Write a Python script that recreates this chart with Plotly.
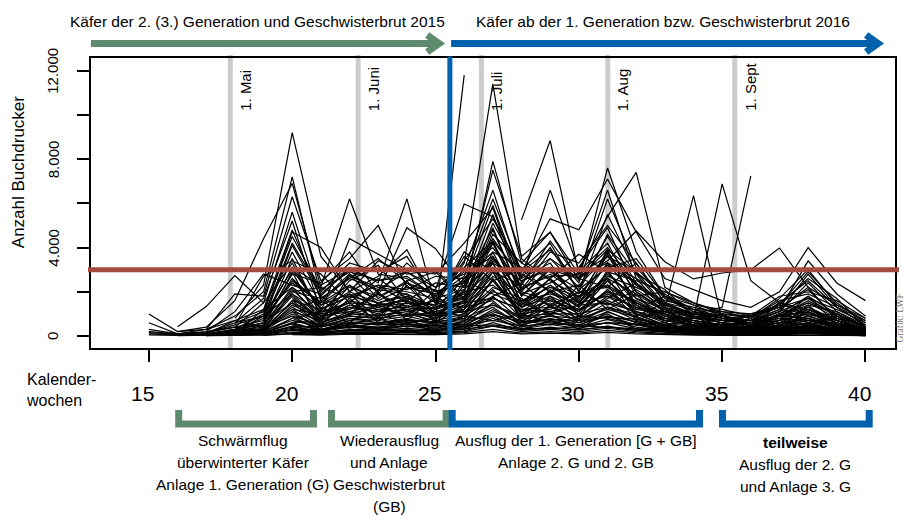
import plotly.graph_objects as go

N = None
WEEKS = list(range(15, 41))

# weekly trap catches (beetles per trap), calendar weeks 15..40
trap_01 = [N, N, N, 800, 2300, 9200, 3600, 2000, 1500, 1800, 1200, 2600, 4200, 2100, 2800, 1900, 3200, 2400, 1300, 900, 700, 600, 800, 700, 500, 300]
trap_02 = [N, N, 300, 900, 2000, 7200, 1800, 3100, 2400, 6200, 1400, 1900, 7900, 3300, 4700, 2500, 7600, 3800, 1800, 1100, 900, 700, 900, 800, 400, 200]
trap_03 = [N, 200, 400, 1600, 4400, 6900, 2200, 6200, 2800, 2600, 1800, 3000, 6600, 2600, 6600, 3000, 5400, 7400, 2200, 1500, 1000, 900, 1400, 1200, 700, 300]
trap_04 = [1000, 200, 300, 1900, 1800, 6300, 2500, 3500, 5000, 2200, 2100, 5970, 5400, 2900, 5300, 4800, 7100, 4700, 2600, 2100, 1600, 1300, 2000, 4000, 2400, 1600]
trap_05 = [N, 420, 1330, 2730, 1500, 5600, 1600, 2800, 2000, 4900, 3950, 2200, 7500, 3600, 4700, 2800, 6600, 2600, 1900, 1200, 800, 700, 1100, 2800, 1300, 700]
trap_06 = [N, N, N, N, N, N, N, N, N, N, 800, 11800, N, N, N, N, N, N, N, N, N, N, N, N, N, N]
trap_07 = [N, N, N, 600, 900, 3000, 1200, 1800, 2300, 1500, 1400, 3300, 11400, 3500, 2500, 1800, 2300, 1500, 900, 700, 500, 400, 600, 500, 300, 200]
trap_08 = [N, N, N, N, N, N, N, N, N, N, N, N, N, 5250, 8840, 2800, 3600, 2300, 1400, 1000, 700, 600, 900, 1100, 600, 300]
trap_09 = [N, N, N, N, 800, 2400, 1500, 2700, 2200, 2000, 1700, 2100, 3400, 2500, 3000, 2600, 3400, 4750, 3360, 2580, 2850, 3000, 3980, 2200, 1400, 800]
trap_10 = [N, N, N, N, 500, 2100, 900, 1600, 1300, 1500, 1200, 1600, 3600, 1400, 2300, 1500, 2800, 1700, 1200, 6350, 700, 700, 900, 1300, 700, 300]
trap_11 = [N, N, N, N, N, 1700, 800, 1400, 1200, 1300, 1000, 1500, 3000, 1300, 2000, 1400, 2500, 1400, 800, 800, 6880, 2500, 1500, 1200, 800, 500]
trap_12 = [N, N, N, N, N, 1300, 600, 1000, 900, 1100, 800, 1200, 2500, 1100, 1600, 1200, 2000, 1200, 1800, 1000, 1300, 7240, N, N, N, N]
trap_13 = [200, 100, 150, 500, 900, 3800, 1400, 2200, 1800, 2400, 1500, 2000, 5500, 2000, 3500, 2200, 4500, 2400, 1500, 900, 600, 500, 900, 1600, 900, 400]
trap_14 = [150, 80, 100, 700, 1200, 4800, 1700, 2600, 2100, 2900, 2000, 2400, 5900, 2400, 4000, 2000, 5500, 2800, 1300, 800, 700, 600, 1100, 2400, 1100, 500]
trap_15 = [300, 100, 200, 400, 700, 3100, 1200, 1800, 1500, 1900, 1300, 1700, 4800, 1800, 3000, 1700, 3800, 2000, 1100, 700, 500, 400, 700, 1300, 700, 300]
trap_16 = [100, 50, 100, 300, 600, 2600, 900, 1500, 1400, 1600, 1100, 1500, 4200, 1500, 2600, 1500, 3300, 1700, 1000, 600, 400, 400, 600, 1100, 600, 250]
trap_17 = [600, 100, 150, 600, 1100, 4500, 2100, 2900, 2500, 2700, 1800, 2700, 6200, 2900, 3900, 2400, 6200, 3100, 1700, 1100, 800, 700, 1400, 2900, 1500, 600]
trap_18 = [N, N, 100, 300, 500, 2200, 700, 1300, 1100, 1400, 900, 1400, 3800, 1300, 2300, 1300, 2900, 1500, 800, 500, 400, 300, 500, 900, 500, 200]
trap_19 = [N, 50, 80, 250, 400, 1800, 600, 1100, 900, 1200, 800, 1200, 3300, 1100, 2000, 1100, 2500, 1300, 700, 500, 300, 300, 500, 800, 400, 150]
trap_20 = [N, N, N, 200, 350, 1500, 500, 900, 800, 1000, 700, 1000, 2900, 1000, 1700, 1000, 2100, 1100, 600, 400, 300, 250, 400, 700, 350, 150]
trap_21 = [N, 60, 90, 180, 300, 1200, 450, 800, 700, 900, 600, 900, 2500, 900, 1500, 900, 1800, 1000, 500, 350, 250, 200, 350, 600, 300, 100]
trap_22 = [50, 30, 60, 150, 250, 1000, 400, 700, 600, 800, 500, 800, 2100, 800, 1300, 800, 1500, 800, 450, 300, 200, 180, 300, 500, 250, 80]
trap_23 = [N, N, 60, 120, 200, 800, 300, 600, 500, 650, 450, 650, 1800, 700, 1100, 700, 1300, 700, 400, 250, 180, 150, 250, 400, 200, 70]
trap_24 = [N, 40, 50, 100, 150, 600, 250, 500, 400, 550, 350, 550, 1500, 600, 900, 600, 1100, 600, 350, 220, 160, 130, 200, 350, 180, 60]
trap_25 = [N, N, N, 80, 120, 450, 200, 400, 350, 450, 300, 450, 1200, 500, 800, 500, 900, 500, 300, 200, 140, 120, 180, 300, 150, 50]
trap_26 = [N, N, 40, 60, 100, 350, 150, 300, 280, 350, 250, 380, 1000, 400, 650, 420, 750, 400, 250, 160, 120, 100, 150, 250, 120, 40]
trap_27 = [N, 20, 30, 50, 80, 250, 120, 230, 220, 280, 200, 300, 800, 320, 520, 340, 600, 320, 200, 130, 100, 80, 120, 200, 100, 30]
trap_28 = [N, N, N, 40, 60, 180, 90, 170, 160, 210, 150, 230, 600, 250, 400, 260, 450, 250, 160, 100, 80, 60, 100, 160, 80, 20]
trap_29 = [N, N, 200, 1100, 2800, 2300, 1900, 3000, 1700, 2500, 2900, 1600, 4600, 3300, 2600, 3700, 2900, 2500, 2000, 1400, 1200, 900, 1300, 1700, 1200, 600]
trap_30 = [N, N, N, 500, 2700, 3400, 2800, 1500, 2600, 1700, 1400, 3800, 2900, 2300, 4300, 2600, 2200, 3300, 1500, 1000, 700, 900, 1800, 2000, 1600, 800]
trap_31 = [N, N, N, N, 600, 2800, 2400, 3800, 1900, 3300, 2200, 2800, 3600, 1900, 2400, 3100, 4900, 2000, 1200, 800, 600, 500, 1000, 1500, 1000, 400]
trap_32 = [N, N, N, 300, 1000, 4700, 4000, 2000, 3400, 2800, 3000, 1700, 5100, 2800, 2000, 2300, 3600, 2900, 1400, 1000, 900, 700, 1200, 3400, 1900, 900]
trap_33 = [N, N, 150, 400, 1500, 3300, 1000, 2500, 3200, 1600, 2400, 2200, 4400, 2600, 3300, 1500, 2700, 2200, 1600, 1300, 1000, 800, 1600, 1900, 1300, 500]
trap_34 = [N, N, N, N, N, 1600, 1200, 2000, 2700, 3900, 1500, 3600, 2500, 3000, 2000, 2900, 4200, 1800, 2000, 1500, 1100, 1000, 1300, 2100, 800, 300]
trap_35 = [N, N, N, N, 300, 2000, 2200, 1700, 2300, 2100, 2700, 2600, 3800, 3100, 2900, 2100, 3100, 3500, 1800, 1200, 900, 700, 900, 1400, 1100, 400]
trap_36 = [N, N, 100, 250, 800, 2500, 1500, 2300, 1600, 2200, 1900, 2900, 4000, 2200, 2700, 2800, 4000, 2300, 1400, 900, 700, 600, 1100, 1700, 900, 350]
trap_37 = [N, N, N, N, 200, 1400, 800, 1900, 1300, 1700, 1200, 1800, 3100, 1600, 2200, 1800, 2600, 1900, 1100, 900, 600, 500, 800, 1200, 700, 250]
trap_38 = [N, N, N, 150, 500, 1900, 1100, 1200, 1900, 1300, 1600, 1300, 2700, 1900, 1400, 2000, 2200, 1500, 900, 700, 500, 600, 700, 1000, 600, 200]
trap_39 = [N, N, N, N, N, 1100, 700, 1400, 1000, 1500, 900, 2000, 2300, 1300, 1800, 1200, 1900, 1300, 1100, 600, 400, 400, 600, 900, 500, 200]
trap_40 = [N, N, N, N, 400, 900, 500, 1000, 1300, 900, 1100, 900, 1700, 1200, 1100, 1400, 1500, 1100, 700, 500, 350, 300, 500, 700, 400, 150]
trap_41 = [N, N, N, N, N, 700, 400, 800, 600, 700, 650, 800, 1400, 800, 900, 800, 1200, 850, 500, 350, 250, 250, 400, 550, 300, 100]
trap_42 = [N, N, N, N, N, 500, 300, 600, 500, 550, 450, 600, 1000, 600, 700, 600, 900, 650, 400, 300, 200, 200, 300, 450, 250, 80]
trap_43 = [N, N, N, N, 30, 100, 60, 120, 100, 140, 90, 150, 300, 130, 200, 130, 250, 140, 80, 60, 40, 40, 60, 90, 50, 20]
trap_44 = [N, N, N, N, N, 60, 40, 80, 70, 90, 60, 100, 200, 90, 130, 90, 160, 90, 50, 40, 30, 30, 40, 60, 30, 10]
trap_45 = [N, N, 10, 20, 40, 120, 80, 150, 120, 180, 110, 200, 450, 200, 300, 200, 350, 200, 120, 80, 60, 50, 80, 130, 70, 20]
trap_46 = [N, N, N, 200, 900, 1900, 700, 2300, 1100, 1800, 600, 1400, 2900, 800, 2100, 1300, 2600, 900, 1500, 400, 900, 300, 700, 1800, 500, 200]
trap_47 = [N, N, N, N, 300, 1300, 1600, 900, 2000, 700, 1800, 1000, 2200, 1700, 900, 2300, 1200, 1900, 600, 1100, 300, 800, 1300, 600, 900, 100]
trap_48 = [N, 100, 300, 700, 400, 2900, 500, 1700, 600, 2500, 900, 2100, 3300, 600, 1800, 700, 3000, 1000, 500, 700, 200, 500, 400, 1400, 300, 150]
trap_49 = [N, N, N, 100, 1200, 2200, 1300, 600, 1500, 1200, 500, 2500, 1900, 1400, 2600, 900, 1700, 2400, 1000, 300, 600, 200, 1000, 700, 600, 250]
trap_50 = [N, N, N, N, 100, 800, 1100, 1500, 700, 1300, 1600, 700, 2600, 1000, 1200, 1800, 2300, 700, 1200, 500, 400, 600, 300, 1100, 400, 100]
trap_51 = [N, N, 50, 300, 600, 3500, 900, 1200, 1900, 1100, 1300, 1800, 4300, 1500, 1000, 1400, 3700, 1400, 700, 900, 300, 400, 900, 1500, 800, 300]
trap_52 = [N, N, N, N, N, 2600, 1400, 1900, 800, 2300, 1000, 1600, 3500, 2000, 1600, 1100, 2000, 1600, 900, 600, 500, 300, 600, 1200, 600, 200]
trap_53 = [N, N, N, 400, 200, 1600, 600, 2800, 1400, 900, 2100, 1100, 1800, 2400, 1300, 2000, 1400, 2100, 1300, 800, 1000, 400, 1500, 900, 1000, 350]
trap_54 = [N, N, N, N, 700, 4100, 1800, 1000, 2100, 1900, 700, 2300, 4900, 1800, 3100, 1600, 3900, 1200, 1000, 400, 500, 700, 1200, 2200, 700, 300]
trap_55 = [N, N, N, N, N, 900, 200, 700, 1000, 600, 800, 1300, 1600, 500, 1400, 600, 1300, 900, 300, 500, 200, 150, 500, 800, 300, 100]
trap_56 = [N, 50, 100, 200, 300, 1100, 300, 500, 800, 400, 600, 500, 1100, 700, 500, 900, 800, 500, 600, 200, 300, 100, 300, 600, 200, 80]
trap_57 = [N, N, N, 100, 250, 700, 500, 350, 600, 750, 300, 900, 700, 1000, 600, 500, 1000, 300, 400, 300, 100, 250, 200, 400, 250, 60]
trap_58 = [N, N, N, N, 100, 400, 200, 550, 300, 450, 500, 350, 900, 300, 700, 400, 600, 550, 200, 150, 200, 80, 250, 300, 150, 40]
trap_59 = [N, N, N, N, 50, 300, 150, 250, 400, 200, 250, 450, 500, 350, 300, 450, 400, 250, 300, 100, 60, 120, 150, 250, 100, 30]
trap_60 = [N, N, 20, 70, 150, 550, 250, 450, 350, 600, 200, 700, 1300, 450, 1000, 300, 1100, 600, 250, 180, 120, 90, 200, 450, 180, 60]
trap_61 = [N, N, N, N, N, 3100, 2300, 3000, 2500, 2900, 2200, 3100, 4300, 2700, 3500, 2600, 3900, 2900, 1800, 1400, 900, 700, 1500, 2500, 1300, 500]
trap_62 = [N, N, N, 600, 1700, 5200, 1100, 4400, 3700, 3000, 2800, 4200, 5800, 2100, 3800, 3300, 5000, 3300, 1500, 1200, 1100, 800, 1700, 3000, 1400, 700]
trap_63 = [N, N, N, N, 900, 4200, 2000, 3300, 2900, 3600, 1600, 3400, 5300, 3000, 4200, 2000, 4600, 2800, 2100, 900, 600, 1000, 1400, 2600, 1700, 400]
trap_64 = [N, N, N, N, N, 2000, 1700, 2600, 3500, 2400, 1900, 2500, 3300, 2500, 3100, 2700, 3300, 2600, 1200, 1000, 800, 500, 1000, 1800, 1000, 350]
trap_65 = [N, N, N, 250, 600, 1500, 900, 1100, 1400, 1600, 1000, 1100, 2000, 1600, 1900, 1500, 1800, 1300, 1000, 700, 500, 500, 700, 1000, 700, 250]
trap_66 = [N, N, N, N, N, 1200, 1000, 1300, 1100, 1200, 1300, 1500, 1700, 1200, 1300, 1200, 1600, 1100, 800, 600, 400, 350, 600, 800, 500, 200]
trap_67 = [N, N, N, N, 150, 600, 700, 900, 800, 1000, 900, 1100, 1400, 900, 1000, 1000, 1300, 1000, 700, 450, 350, 300, 450, 600, 450, 150]
trap_68 = [N, N, N, N, N, 400, 450, 600, 550, 700, 600, 700, 950, 650, 750, 700, 850, 750, 500, 350, 250, 220, 350, 450, 350, 100]
trap_69 = [N, N, N, N, N, 250, 300, 400, 380, 450, 400, 500, 700, 450, 550, 480, 600, 500, 350, 250, 180, 150, 250, 330, 250, 80]
trap_70 = [N, N, N, N, N, 150, 180, 250, 230, 280, 260, 320, 450, 300, 350, 300, 400, 320, 230, 170, 120, 100, 170, 230, 160, 50]

SERIES = [trap_01, trap_02, trap_03, trap_04, trap_05, trap_06, trap_07, trap_08, trap_09, trap_10,
          trap_11, trap_12, trap_13, trap_14, trap_15, trap_16, trap_17, trap_18, trap_19, trap_20,
          trap_21, trap_22, trap_23, trap_24, trap_25, trap_26, trap_27, trap_28, trap_29, trap_30,
          trap_31, trap_32, trap_33, trap_34, trap_35, trap_36, trap_37, trap_38, trap_39, trap_40,
          trap_41, trap_42, trap_43, trap_44, trap_45, trap_46, trap_47, trap_48, trap_49, trap_50,
          trap_51, trap_52, trap_53, trap_54, trap_55, trap_56, trap_57, trap_58, trap_59, trap_60,
          trap_61, trap_62, trap_63, trap_64, trap_65, trap_66, trap_67, trap_68, trap_69, trap_70]

X_TICKS = [15, 20, 25, 30, 35, 40]
Y_TICKS = [0, 2000, 4000, 6000, 8000, 10000, 12000]
Y_TICK_TEXT = ["0", "", "4.000", "", "8.000", "", "12.000"]
THRESHOLD = 3000
SPLIT_WEEK = 25.5
MONTH_WEEKS = [17.84, 22.30, 26.60, 31.01, 35.44]
MONTH_LABELS = ["1. Mai", "1. Juni", "1. Juli", "1. Aug", "1. Sept"]
PERIOD_TITLES = ["Käfer der 2. (3.) Generation und Geschwisterbrut 2015",
                 "Käfer ab der 1. Generation bzw. Geschwisterbrut 2016"]
PHASE_START = [16.04, 21.37, 25.58, 35.01]
PHASE_END = [20.74, 25.37, 34.21, 40.13]
PHASE_TEXT_WEEK = [18.27, 23.39, 29.90, 37.55]
PHASE_LINES = [["Schwärmflug", "überwinterter Käfer", "Anlage 1. Generation (G)"],
               ["Wiederausflug", "und Anlage", "Geschwisterbrut", "(GB)"],
               ["Ausflug der 1. Generation [G + GB]", "Anlage 2. G und 2. GB"],
               ["<b>teilweise</b>", "Ausflug der 2. G", "und Anlage 3. G"]]

GREEN = "#5E8B6E"
BLUE = "#0061AC"
RED = "#A34B3E"
GREY = "#CCCCCC"
FONT = "Liberation Sans Narrow, Arial Narrow, Liberation Sans, Arial, sans-serif"

L, R, T, B = 91, 897, 58, 348


def px_x(px):
    return (px - L) / (R - L)


def px_y(py):
    return (B - py) / (B - T)


def txt(text, x, y, size, xref="paper", yref="paper", angle=0, xanchor="center", yanchor="middle", **kw):
    d = dict(text=text, x=x, y=y, xref=xref, yref=yref, textangle=angle, xanchor=xanchor,
             yanchor=yanchor, showarrow=False, font=dict(size=size, family=FONT, color="black"))
    d.update(kw)
    return d


fig = go.Figure()
for s in SERIES:
    fig.add_trace(go.Scatter(x=WEEKS, y=s, mode="lines", line=dict(color="black", width=1.2),
                             hoverinfo="skip", showlegend=False, connectgaps=False))

shapes = []
for w in MONTH_WEEKS:
    shapes.append(dict(type="line", xref="x", yref="paper", x0=w, x1=w, y0=-0.005, y1=1.01,
                       line=dict(color=GREY, width=5), layer="below"))
shapes.append(dict(type="line", xref="paper", yref="y", x0=px_x(88), x1=px_x(901),
                   y0=THRESHOLD, y1=THRESHOLD, line=dict(color=RED, width=5), layer="above"))
shapes.append(dict(type="line", xref="x", yref="paper", x0=SPLIT_WEEK, x1=SPLIT_WEEK,
                   y0=px_y(350), y1=px_y(56.5), line=dict(color=BLUE, width=5), layer="above"))
# period arrows
ya = px_y(43.5)
shapes.append(dict(type="line", xref="paper", yref="paper", x0=px_x(91), x1=px_x(438), y0=ya, y1=ya,
                   line=dict(color=GREEN, width=7)))
shapes.append(dict(type="path", xref="paper", yref="paper",
                   path=f"M {px_x(428)},{px_y(35)} L {px_x(440)},{ya} L {px_x(428)},{px_y(52)}",
                   line=dict(color=GREEN, width=7)))
shapes.append(dict(type="line", xref="paper", yref="paper", x0=px_x(452), x1=px_x(876), y0=ya, y1=ya,
                   line=dict(color=BLUE, width=7)))
shapes.append(dict(type="path", xref="paper", yref="paper",
                   path=f"M {px_x(868)},{px_y(35)} L {px_x(880)},{ya} L {px_x(868)},{px_y(52)}",
                   line=dict(color=BLUE, width=7)))
# phase brackets
ytop, ybot = px_y(410), px_y(424)
for i, (a, b) in enumerate(zip(PHASE_START, PHASE_END)):
    col = GREEN if i < 2 else BLUE
    shapes.append(dict(type="path", xref="x", yref="paper",
                       path=f"M {a},{ytop} L {a},{ybot} L {b},{ybot} L {b},{ytop}",
                       line=dict(color=col, width=7)))

ann = []
ann.append(txt(PERIOD_TITLES[0], px_x(258), px_y(21), 15.5))
ann.append(txt(PERIOD_TITLES[1], px_x(664), px_y(21), 15.5))
ann.append(txt("Anzahl Buchdrucker", px_x(18), px_y(172), 17, angle=-90))
for v, t in zip(Y_TICKS, Y_TICK_TEXT):
    if t:
        ann.append(txt(t, px_x(53), v, 15, yref="y", angle=-90))
for v in X_TICKS:
    ann.append(txt(str(v), v, px_y(393), 21, xref="x", xshift=-6))
ann.append(txt("Kalender-<br>wochen", px_x(24), px_y(390), 16, xanchor="left", align="left"))
for w, t in zip(MONTH_WEEKS, MONTH_LABELS):
    ann.append(txt(t, w, px_y(113), 15, xref="x", angle=-90, yanchor="bottom", xshift=15))
LINE_Y = [[440, 462, 484], [440, 462, 484, 507], [440, 462], [442, 464, 486]]
for w, lines, ys in zip(PHASE_TEXT_WEEK, PHASE_LINES, LINE_Y):
    for line, yy in zip(lines, ys):
        ann.append(txt(line, w, px_y(yy), 15.5, xref="x"))
g = txt("Grafik: LWF", px_x(902.5), px_y(318), 9.5, angle=-90)
g["font"] = dict(size=9.5, color="#777777", family="Liberation Serif, serif")
ann.append(g)

fig.update_layout(width=906, height=515, margin=dict(l=L, r=906 - R, t=T, b=515 - B),
                  plot_bgcolor="white", paper_bgcolor="white", showlegend=False,
                  font=dict(family=FONT, size=16, color="black"), shapes=shapes, annotations=ann)
fig.update_xaxes(range=[12.98, 41.03], showgrid=False, zeroline=False, showline=True, linecolor="black",
                 linewidth=2, mirror=True, tickvals=X_TICKS, ticks="outside", ticklen=12, tickwidth=2,
                 tickcolor="black", showticklabels=False)
fig.update_yaxes(range=[-543, 12574], showgrid=False, zeroline=False, showline=True, linecolor="black",
                 linewidth=2, mirror=True, tickvals=Y_TICKS, ticks="outside", ticklen=12, tickwidth=2,
                 tickcolor="black", showticklabels=False)
fig.write_html("out.html", config={"displayModeBar": False},
               post_script="document.body.style.margin='0px';")
